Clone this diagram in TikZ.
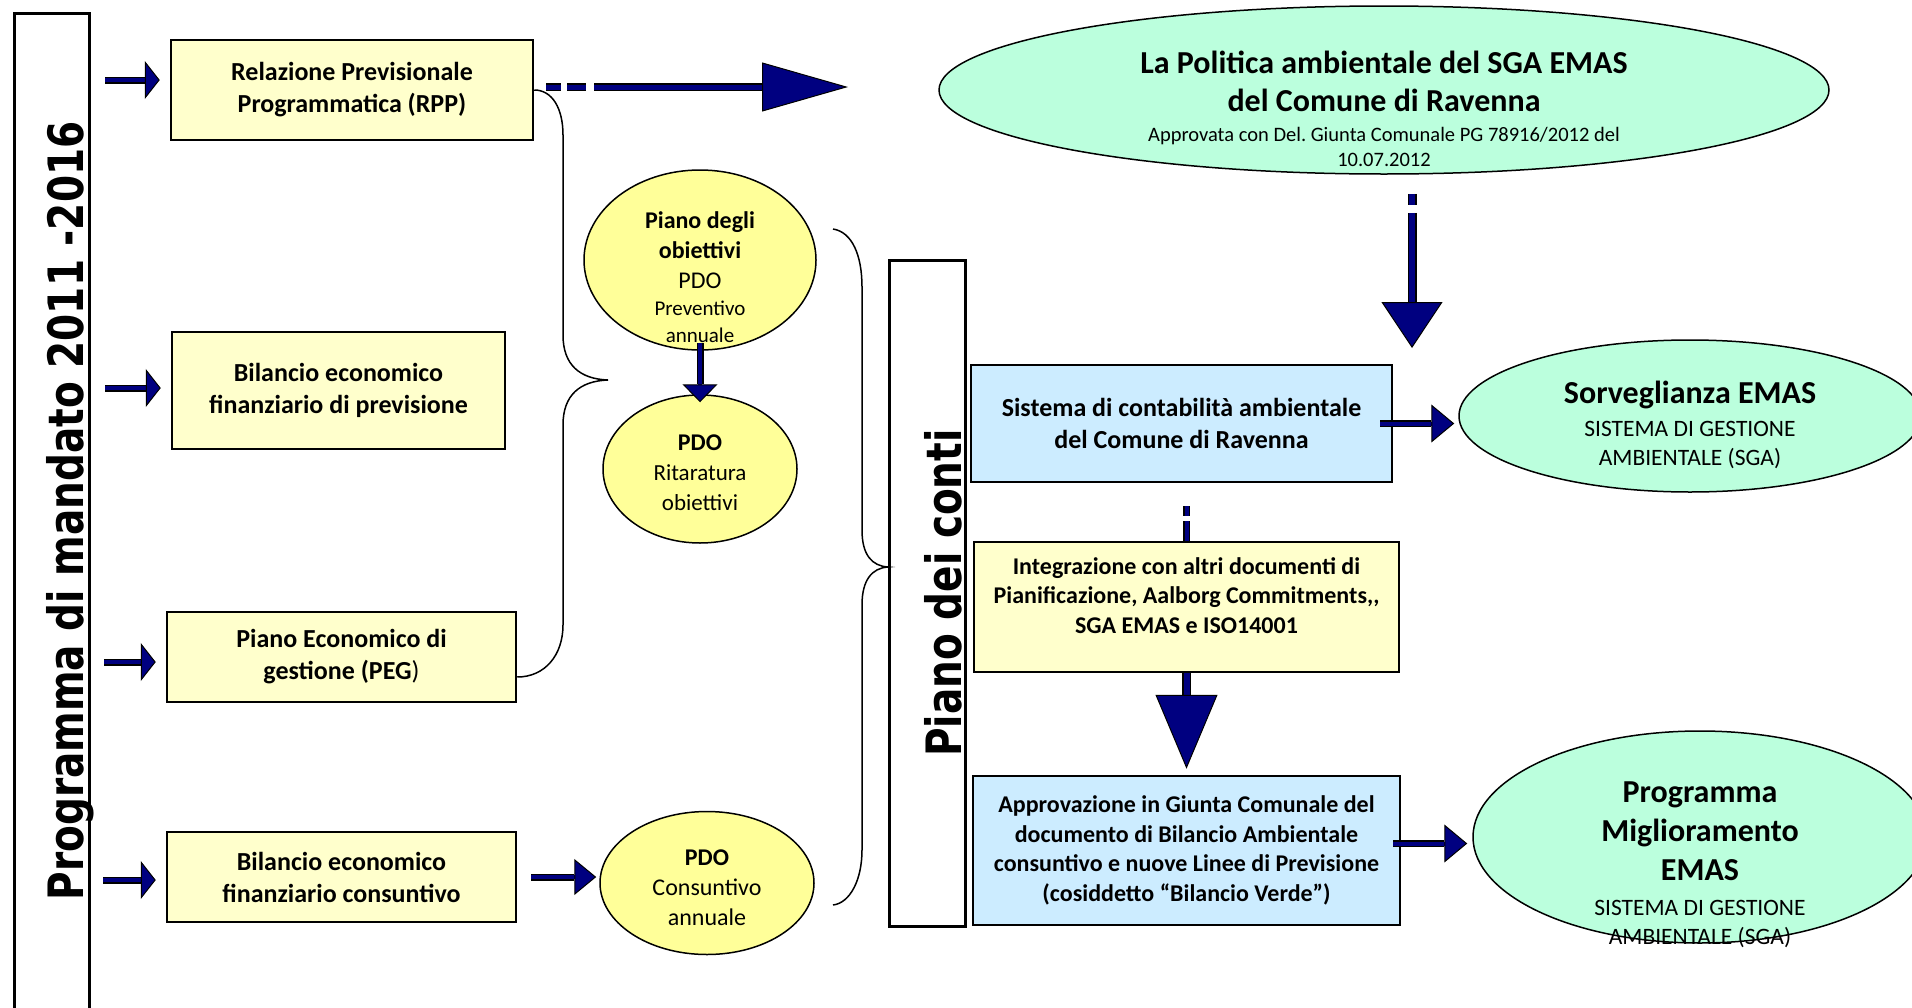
\documentclass[tikz,border=0pt]{standalone}
\usepackage{graphicx}
\usepackage{fontspec}
\setmainfont{Carlito}
\newfontfamily\vertfont{DejaVu Sans}
\usetikzlibrary{shapes.geometric,arrows.meta,positioning,calc}
\definecolor{boxyellow}{RGB}{255,255,204}
\definecolor{ovalyellow}{RGB}{255,255,153}
\definecolor{boxblue}{RGB}{204,236,255}
\definecolor{ovalgreen}{RGB}{187,255,221}
\definecolor{arrownavy}{RGB}{0,0,128}
\newcommand{\boxfont}{\fontsize{26}{32}\selectfont\bfseries}
\newcommand{\notefont}{\fontsize{24}{29.5}\selectfont\bfseries}
\newcommand{\ovalbig}{\fontsize{32}{38}\selectfont\bfseries}
\newcommand{\ovalsmall}{\fontsize{23.5}{29}\selectfont\mdseries}
\newcommand{\ovalnote}{\fontsize{20.5}{25}\selectfont\mdseries}
\newcommand{\pdofont}{\fontsize{23}{30}\selectfont}
\newcommand{\vertlabel}{\vertfont\bfseries\fontsize{39}{39}\selectfont}
\tikzset{
box/.style={draw, line width=2.5pt, inner sep=0pt, align=center}, % rectangles of the scheme
yellowbox/.style={box, fill=boxyellow},
bluebox/.style={box, fill=boxblue},
oval/.style={ellipse, draw, line width=1.5pt, inner sep=0pt, align=center},
yellowoval/.style={oval, fill=ovalyellow},
greenoval/.style={oval, fill=ovalgreen},
frame/.style={draw, line width=3pt},
brace/.style={draw, line width=1.5pt},
arrowdash/.style={},
% navy block arrow: shaft width, head length, head width
blockarrow/.style n args={3}{draw=arrownavy, line width={#1-3pt},
  preaction={draw=black, line width=#1, -, shorten >=#2, arrowdash},
  -{Triangle[length=#2, width=#3, fill=arrownavy, color=black, line width=1pt]}},
navyline/.style={draw=arrownavy, line width={#1-3pt}, preaction={draw=black, line width=#1, arrowdash}},
dashpat/.style={dash pattern=#1, arrowdash/.style={dash pattern=#1}},
}

\begin{document}
\frenchspacing
\begin{tikzpicture}[x=1pt, y=-1pt, node distance=200pt, on grid]
\useasboundingbox (0,0) rectangle (1912,1007);
% programma di mandato
\draw[frame] (14,13) rectangle (89,1030);
\node[rotate=90, anchor=base, font=\vertlabel] (mandato) at (83,511) {\scalebox{1}[1.25]{Programma di mandato 2011 -2016}};
\node[yellowbox, minimum width=362pt, minimum height=100pt, font=\boxfont] (rpp) at (352,90) {Relazione Previsionale\\Programmatica (RPP)};
\node[yellowbox, minimum width=333pt, minimum height=117pt, font=\boxfont] (bilprev) at (338.5,390.5) {Bilancio economico\\finanziario di previsione};
\node[yellowbox, minimum width=349pt, minimum height=90pt, font=\boxfont] (peg) at (341.5,657) {Piano Economico di\\gestione (PEG{\mdseries )}};
\node[yellowbox, minimum width=349pt, minimum height=90pt, font=\boxfont, below=220pt of peg] (bilcons) {Bilancio economico\\finanziario consuntivo};
% PDO
\node[yellowoval, minimum width=232pt, minimum height=180pt] (pdo) at (700,260) {};
\node[align=center, font=\pdofont] (pdo-text) at ([yshift=-17pt]pdo.center) {{\bfseries\fontsize{24}{30}\selectfont Piano degli}\\{\bfseries\fontsize{24}{30}\selectfont obiettivi}\\{\fontsize{24}{30}\selectfont PDO}\\[-3pt]{\fontsize{21}{27}\selectfont Preventivo}\\[-3pt]{\fontsize{21}{27}\selectfont annuale}};
\node[yellowoval, minimum width=194pt, minimum height=148pt] (ritaratura) at (700,469) {};
\node[align=center, font=\pdofont] (ritaratura-text) at ([yshift=-4pt]ritaratura.center) {{\bfseries\fontsize{24}{30}\selectfont PDO}\\Ritaratura\\obiettivi};
\node[yellowoval, minimum width=214pt, minimum height=143pt] (pdocons) at (707,883) {};
\node[align=center, font=\pdofont] (pdocons-text) at ([yshift=-5pt]pdocons.center) {{\bfseries\fontsize{24}{30}\selectfont PDO}\\{\fontsize{24}{30}\selectfont Consuntivo}\\{\fontsize{24}{30}\selectfont annuale}};
% piano dei conti
\node[frame, fill=white, inner sep=0pt, minimum width=76pt, minimum height=666pt] (conti) at (927,593) {};
\node[rotate=90, anchor=base, font=\vertlabel] (conti-text) at (961,593) {\scalebox{1}[1.25]{Piano dei conti}};
% EMAS
\node[greenoval, minimum width=890pt, minimum height=168pt] (politica) at (1384,90) {};
\node[align=center, font=\ovalbig] (politica-text) at ([yshift=-19pt]politica.center) {La Politica ambientale del SGA EMAS\\del Comune di Ravenna\\[-8pt]{\ovalnote Approvata con Del. Giunta Comunale PG 78916/2012 del}\\[-13pt]{\ovalnote 10.07.2012}};
\node[bluebox, minimum width=421pt, minimum height=117pt, font=\boxfont] (sistema) at (1181.5,423.5) {Sistema di contabilità ambientale\\del Comune di Ravenna};
\node[yellowbox, minimum width=425pt, minimum height=130pt, font=\notefont] (integr) at (1186.5,607) {Integrazione con altri documenti di\\Pianificazione, Aalborg Commitments,\mbox{,}\\SGA EMAS e ISO14001\\[-6pt] \mbox{}};
\node[bluebox, minimum width=427pt, minimum height=149pt, font=\notefont, below=243.5pt of integr] (approv) {Approvazione in Giunta Comunale del\\documento di Bilancio Ambientale\\consuntivo e nuove Linee di Previsione\\(cosiddetto “Bilancio Verde”)};
\node[greenoval, minimum width=462pt, minimum height=152pt] (sorveg) at (1690,416) {};
\node[align=center, font=\ovalbig] (sorveg-text) at ([yshift=-9pt]sorveg.center) {Sorveglianza EMAS\\[-5pt]{\ovalsmall SISTEMA DI GESTIONE}\\[-9pt]{\ovalsmall AMBIENTALE (SGA)}};
\node[greenoval, minimum width=454pt, minimum height=212pt] (programma) at (1700,837) {};
\node[align=center, font=\ovalbig] (programma-text) at ([yshift=-28pt]programma.center) {Programma\\[1pt]Miglioramento\\[1pt]EMAS\\[-3pt]{\ovalsmall SISTEMA DI GESTIONE}\\[-9pt]{\ovalsmall AMBIENTALE (SGA)}};
% graffe
\draw[brace] (rpp.east) .. controls (552,90) and (563,108) .. (563,135) -- (563,335)
  .. controls (563,365) and (580,379) .. (608,380) .. controls (580,381) and (563,395) .. (563,425)
  -- (563,625) .. controls (563,655) and (545,677) .. ($(peg.east)+(0,20)$);
\draw[brace] (833,229) .. controls (852,232) and (862,255) .. (862,287) -- (862,530)
  .. controls (862,555) and (872,566) .. (888,567) .. controls (872,568) and (862,580) .. (862,605)
  -- (862,850) .. controls (862,880) and (850,903) .. (833,905);
% frecce
\coordinate (in1) at (105,80);
\coordinate (in2) at (105,388);
\coordinate (in3) at (104,662);
\coordinate (in4) at (103,880);
\foreach \c/\b in {in1/rpp, in2/bilprev, in3/peg, in4/bilcons}
  \draw[blockarrow={7pt}{15pt}{38pt}] (\c) -- ($(\c -| \b.west)+(-10,0)$);
\coordinate (rpp-out) at (848,87);
\draw[blockarrow={8pt}{86pt}{49pt}, dashpat={on 0pt off 12pt on 15pt off 6pt on 19pt off 8pt on 600pt}] (rpp-out -| rpp.east) -- (rpp-out);
\draw[blockarrow={7pt}{18pt}{35pt}, shorten <=-8pt] (pdo.south) -- ($(ritaratura.north)+(0,8)$);
\draw[blockarrow={7pt}{22pt}{36pt}, shorten <=14pt] (bilcons.east) -- ($(bilcons.east -| pdocons.west)+(-3,0)$);
\coordinate (pol-end) at (1412,348);
\draw[blockarrow={9pt}{46pt}{61pt}, dashpat={on 0pt off 19pt on 11pt off 8pt on 600pt}] (politica.south -| pol-end) -- (pol-end);
\draw[blockarrow={7pt}{23pt}{38pt}, shorten <=-13pt] (sistema.east) -- ($(sistema.east -| sorveg.west)+(-4,0)$);
\draw[navyline=7pt, dashpat={on 0pt off 23pt on 10pt off 5pt on 100pt}] (sistema.south -| integr.north) -- (integr.north);
\draw[blockarrow={9pt}{74pt}{62pt}] (integr.south) -- ($(approv.north)+(0,-6)$);
\draw[blockarrow={7pt}{23pt}{38pt}, shorten <=-8pt] ($(approv.east)+(0,-7)$) -- ($(approv.east -| programma.west)+(-5,-7)$);
\end{tikzpicture}
\end{document}
